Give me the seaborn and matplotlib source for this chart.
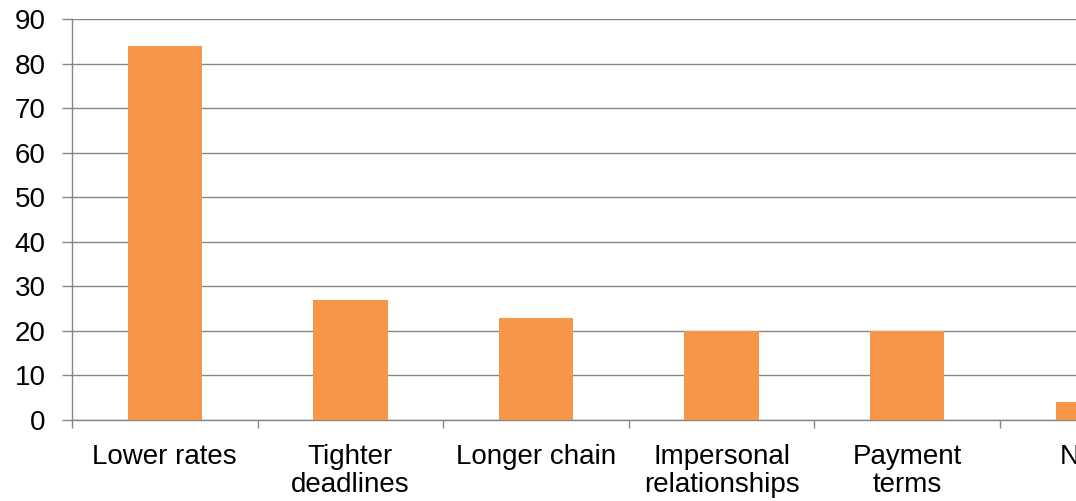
import matplotlib
matplotlib.use("Agg")
import matplotlib.pyplot as plt
import seaborn as sns
import pandas as pd

categories = ["Lower rates", "Tighter\ndeadlines", "Longer chain",
              "Impersonal\nrelationships", "Payment\nterms", "None"]
values = [84, 27, 23, 20, 20, 4]
y_ticks = [0, 10, 20, 30, 40, 50, 60, 70, 80, 90]

sns.set_theme(style="white")
plt.rcParams["font.family"] = ["Liberation Sans", "DejaVu Sans"]

df = pd.DataFrame({"category": categories, "value": values})

fig = plt.figure(figsize=(10.76, 5.01), dpi=100)
# the plot area runs past the right edge of the canvas
ax = fig.add_axes([72 / 1076, 1 - 420 / 501, 6 * 185.6 / 1076, 401 / 501])

sns.barplot(data=df, x="category", y="value", color="#F79646",
            width=0.4, saturation=1, linewidth=0, ax=ax, zorder=3)

grid_color = "#868686"
ax.set_ylim(0, 90)
ax.set_yticks(y_ticks)
ax.set_xlim(-0.5, len(categories) - 0.5)
ax.yaxis.grid(True, color=grid_color, linewidth=1.0, zorder=0)
ax.xaxis.grid(False)

for side in ["top", "right"]:
    ax.spines[side].set_visible(False)
for side in ["left", "bottom"]:
    ax.spines[side].set_color(grid_color)
    ax.spines[side].set_linewidth(1.0)

ax.set_xticks(range(len(categories)))
ax.set_xticklabels(categories, fontsize=20, color="black", linespacing=1.1)
ax.tick_params(axis="x", which="major", length=0, pad=17)
# tick marks sit at the category boundaries
ax.set_xticks([i - 0.5 for i in range(len(categories) + 1)], minor=True)
ax.tick_params(axis="x", which="minor", length=6, width=1.0, color=grid_color,
               direction="out", bottom=True)
ax.tick_params(axis="y", length=7, width=1.0, color=grid_color, pad=12,
               labelsize=20, labelcolor="black", left=True)

ax.set_xlabel("")
ax.set_ylabel("")

fig.savefig("out.png", dpi=100)
